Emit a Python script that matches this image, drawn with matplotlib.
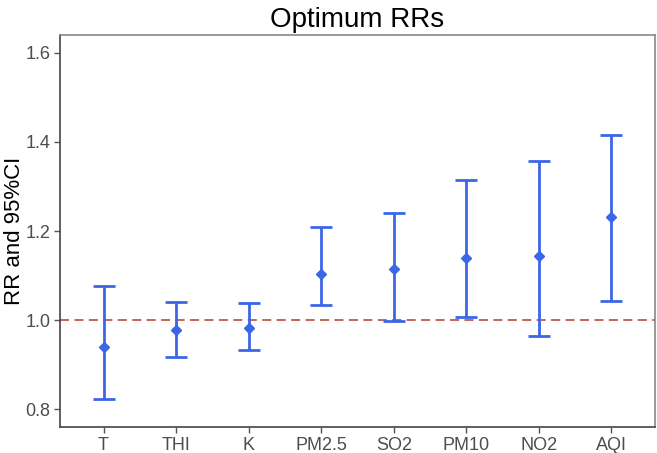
import matplotlib.pyplot as plt

plt.rcParams['font.family'] = ['Liberation Sans', 'DejaVu Sans']

categories = ['T', 'THI', 'K', 'PM2.5', 'SO2', 'PM10', 'NO2', 'AQI']
rr = [0.940, 0.978, 0.983, 1.103, 1.114, 1.140, 1.143, 1.232]
lower = [0.823, 0.918, 0.933, 1.035, 0.999, 1.007, 0.964, 1.042]
upper = [1.077, 1.041, 1.039, 1.209, 1.241, 1.315, 1.357, 1.416]
yticks = [0.8, 1.0, 1.2, 1.4, 1.6]

fig = plt.figure(figsize=(6.57, 4.53), dpi=100)
ax = fig.add_axes([60 / 657, 1 - 427 / 453, 595 / 657, 392 / 453])

x = list(range(1, len(categories) + 1))
err = [[r - lo for r, lo in zip(rr, lower)], [up - r for r, up in zip(rr, upper)]]
ax.axhline(1.0, color='#C0584A', linestyle=(0, (5, 3)), linewidth=1.3, zorder=1)
ax.errorbar(x, rr, yerr=err, fmt='D', color='#3B66E6', markersize=5.5,
            elinewidth=2, capsize=8, capthick=2, zorder=2)

ax.set_xlim(0.4, len(categories) + 0.6)
ax.set_ylim(0.76, 1.64)
ax.set_xticks(x)
ax.set_xticklabels(categories)
ax.set_yticks(yticks)
ax.set_yticklabels([f'{v:.1f}' for v in yticks])
ax.tick_params(colors='#555555', labelcolor='#4D4D4D', labelsize=13,
               length=4, width=1, pad=3)

for side in ['left', 'bottom']:
    ax.spines[side].set_color('#444444')
    ax.spines[side].set_linewidth(1.2)
for side in ['top', 'right']:
    ax.spines[side].set_color('#888888')
    ax.spines[side].set_linewidth(1.2)

ax.set_ylabel('RR and 95%CI', fontsize=16, color='black')
ax.yaxis.set_label_coords(-0.058, 0.5)
ax.set_title('Optimum RRs', fontsize=20, pad=6)

fig.savefig('out.png', dpi=100)
